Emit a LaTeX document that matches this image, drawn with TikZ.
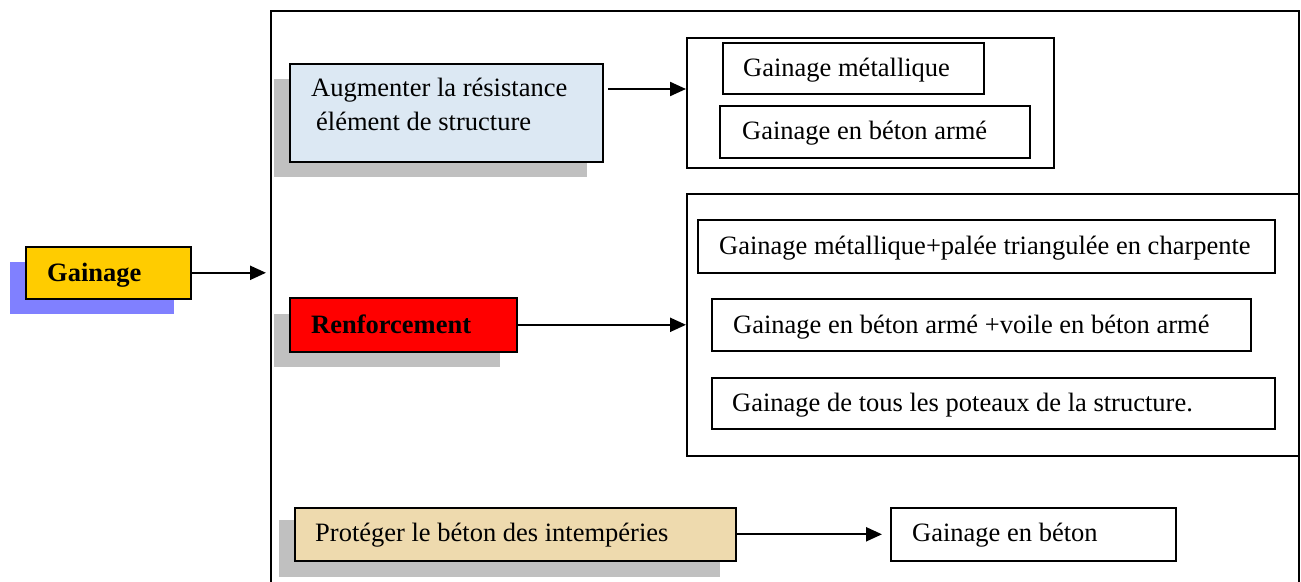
\documentclass[tikz,border=0pt]{standalone}
\usepackage{fontspec}
\setmainfont{Liberation Serif}
\usetikzlibrary{arrows.meta,calc}
\definecolor{gold}{HTML}{FFCC00}
\definecolor{violetshadow}{HTML}{8080FF}
\definecolor{greyshadow}{HTML}{C0C0C0}
\definecolor{paleblue}{HTML}{DCE8F3}
\definecolor{parchment}{HTML}{EEDAAE}
\tikzset{
  box/.style={draw, line width=1.6pt, inner sep=0pt, anchor=north west},
  txt/.style={anchor=base west, inner sep=0pt, font=\fontsize{26.5}{32}\selectfont},
  btxt/.style={txt, font=\fontsize{26.5}{32}\selectfont\bfseries},
  arr/.style={line width=2.2pt, -{Triangle[length=16pt,width=14pt]}},
}
\begin{document}
\begin{tikzpicture}[x=1pt,y=-1pt]
\useasboundingbox (0,0) rectangle (1301,581);
\clip (0,0) rectangle (1301,581);
\fill[white] (0,0) rectangle (1301,581);

% outer frame, open at the bottom of the page
\node[box, line width=2pt, minimum width=1028pt, minimum height=640pt] (frame) at (270,10) {};

% drop shadows
\fill[violetshadow] (10,262) rectangle (174,314);
\fill[greyshadow] (274,79) rectangle (587,177);
\fill[greyshadow] (274,314) rectangle (500,367);
\fill[greyshadow] (279,520) rectangle (720,577);

% left entry
\node[box, fill=gold, minimum width=165pt, minimum height=52pt] (gain) at (25,246) {};
\node[btxt] (tgain) at (47,281) {Gainage};

% first branch
\node[box, fill=paleblue, minimum width=313pt, minimum height=98pt] (aug) at (289,63) {};
\node[txt] (taug1) at (311,96) {Augmenter la résistance};
\node[txt] (taug2) at (316,130) {élément de structure};

\node[box, minimum width=367pt, minimum height=130pt] (topgrp) at (686,37) {};
\node[box, minimum width=261pt, minimum height=51pt] (met) at (722,42) {};
\node[txt] (tmet) at (743,76) {Gainage métallique};
\node[box, minimum width=310pt, minimum height=52pt] (ba) at (719,105) {};
\node[txt] (tba) at (742,139) {Gainage en béton armé};

% second branch
\node[box, fill=red, minimum width=227pt, minimum height=54pt] (renf) at (289,297) {};
\node[btxt] (trenf) at (311,333) {Renforcement};

\node[box, minimum width=612pt, minimum height=262pt] (midgrp) at (686,193) {};
\node[box, minimum width=577pt, minimum height=53pt] (m1) at (697,219) {};
\node[txt] (tm1) at (719,254) {Gainage métallique+palée triangulée en charpente};
\node[box, minimum width=539pt, minimum height=52pt] (m2) at (711,298) {};
\node[txt] (tm2) at (733,333) {Gainage en béton armé +voile en béton armé};
\node[box, minimum width=563pt, minimum height=51pt] (m3) at (711,377) {};
\node[txt] (tm3) at (732,411) {Gainage de tous les poteaux de la structure.};

% third branch
\node[box, fill=parchment, minimum width=441pt, minimum height=53pt] (prot) at (294,507) {};
\node[txt] (tprot) at (315,541) {Protéger le béton des intempéries};
\node[box, minimum width=285pt, minimum height=53pt] (beton) at (890,507) {};
\node[txt] (tbeton) at (912,541) {Gainage en béton};

% connectors
\draw[arr] (gain.east) -- ([xshift=-4pt]gain.east -| frame.west);
\coordinate (augout) at (608,89);
\draw[arr] (augout) -- (augout -| topgrp.west);
\draw[arr] (renf.east) -- (renf.east -| midgrp.west);
\draw[arr] (prot.east) -- ([xshift=-8pt]prot.east -| beton.west);
\end{tikzpicture}
\end{document}
